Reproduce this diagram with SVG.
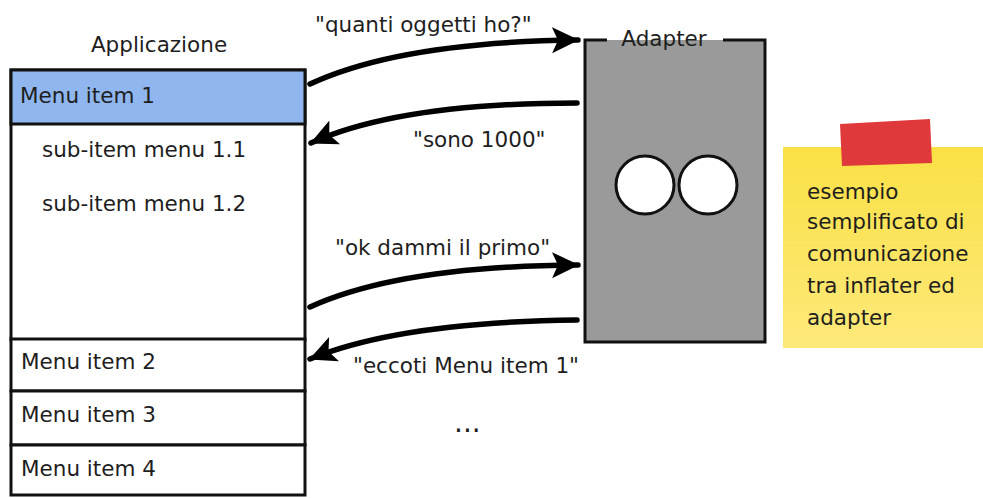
<svg xmlns="http://www.w3.org/2000/svg" width="983" height="498" viewBox="0 0 983 498">
<style>
text{font-family:"DejaVu Sans","Liberation Sans",sans-serif;fill:#1e1e1e;}
.lbl{font-size:21.5px;}
.box{fill:#fff;stroke:#111;stroke-width:3;}
.conn{fill:none;stroke:#000;stroke-width:5.5;stroke-linecap:round;}
</style>
<defs>
<marker id="ah" markerUnits="userSpaceOnUse" markerWidth="28" markerHeight="30" viewBox="0 0 28 30" refX="26" refY="15" orient="auto">
<path d="M0,2 L27,15 L0,28 L6,15 Z" fill="#000"/>
</marker>
<linearGradient id="sticky" x1="0" y1="0" x2="0" y2="1">
<stop offset="0" stop-color="#fae045"/>
<stop offset="1" stop-color="#fde97a"/>
</linearGradient>
</defs>
<rect width="983" height="498" fill="#fff"/>

<g id="applicazione">
<text class="lbl" x="159" y="52" text-anchor="middle">Applicazione</text>
<rect class="box" x="11" y="70" width="294" height="270"/>
<rect x="11" y="70" width="294" height="54" fill="#8fb6ee" stroke="#111" stroke-width="3"/>
<text class="lbl" x="20" y="103">Menu item 1</text>
<text class="lbl" x="42" y="157">sub-item menu 1.1</text>
<text class="lbl" x="42" y="211">sub-item menu 1.2</text>
</g>
<g id="item2">
<rect class="box" x="11" y="339" width="294" height="52"/>
<text class="lbl" x="21" y="369">Menu item 2</text>
</g>
<g id="item3">
<rect class="box" x="11" y="391" width="294" height="54"/>
<text class="lbl" x="21" y="422">Menu item 3</text>
</g>
<g id="item4">
<rect class="box" x="11" y="445" width="294" height="50"/>
<text class="lbl" x="21" y="476">Menu item 4</text>
</g>

<g id="adapter">
<rect x="585" y="40" width="180" height="302" fill="#9a9a9a"/>
<path d="M607,40 L585,40 L585,342 L765,342 L765,40 L723,40" fill="none" stroke="#111" stroke-width="3"/>
<text class="lbl" x="664" y="46" text-anchor="middle">Adapter</text>
<circle cx="645" cy="185" r="29" fill="#fff" stroke="#111" stroke-width="3"/>
<circle cx="708" cy="185" r="29" fill="#fff" stroke="#111" stroke-width="3"/>
</g>

<g id="nota">
<rect x="783" y="147" width="200" height="201" fill="url(#sticky)"/>
<polygon points="840,124 930,119 932,163 842,166" fill="#e0393b"/>
<text class="lbl" x="807" y="199">esempio</text>
<text class="lbl" x="807" y="229">semplificato di</text>
<text class="lbl" x="807" y="261">comunicazione</text>
<text class="lbl" x="807" y="293">tra inflater ed</text>
<text class="lbl" x="807" y="325">adapter</text>
</g>

<g id="connectors">
<path class="conn" d="M310,84 Q400,42 578,40" marker-end="url(#ah)"/>
<path class="conn" d="M577,103 Q400,103 311,143" marker-end="url(#ah)"/>
<path class="conn" d="M310,307 Q400,266 578,265" marker-end="url(#ah)"/>
<path class="conn" d="M577,320 Q400,322 310,359" marker-end="url(#ah)"/>
</g>

<g id="labels">
<text class="lbl" x="315" y="32">"quanti oggetti ho?"</text>
<text class="lbl" x="413" y="147">"sono 1000"</text>
<text class="lbl" x="335" y="255">"ok dammi il primo"</text>
<text class="lbl" x="353" y="373">"eccoti Menu item 1"</text>
<text x="454" y="432" font-size="28">...</text>
</g>
</svg>
